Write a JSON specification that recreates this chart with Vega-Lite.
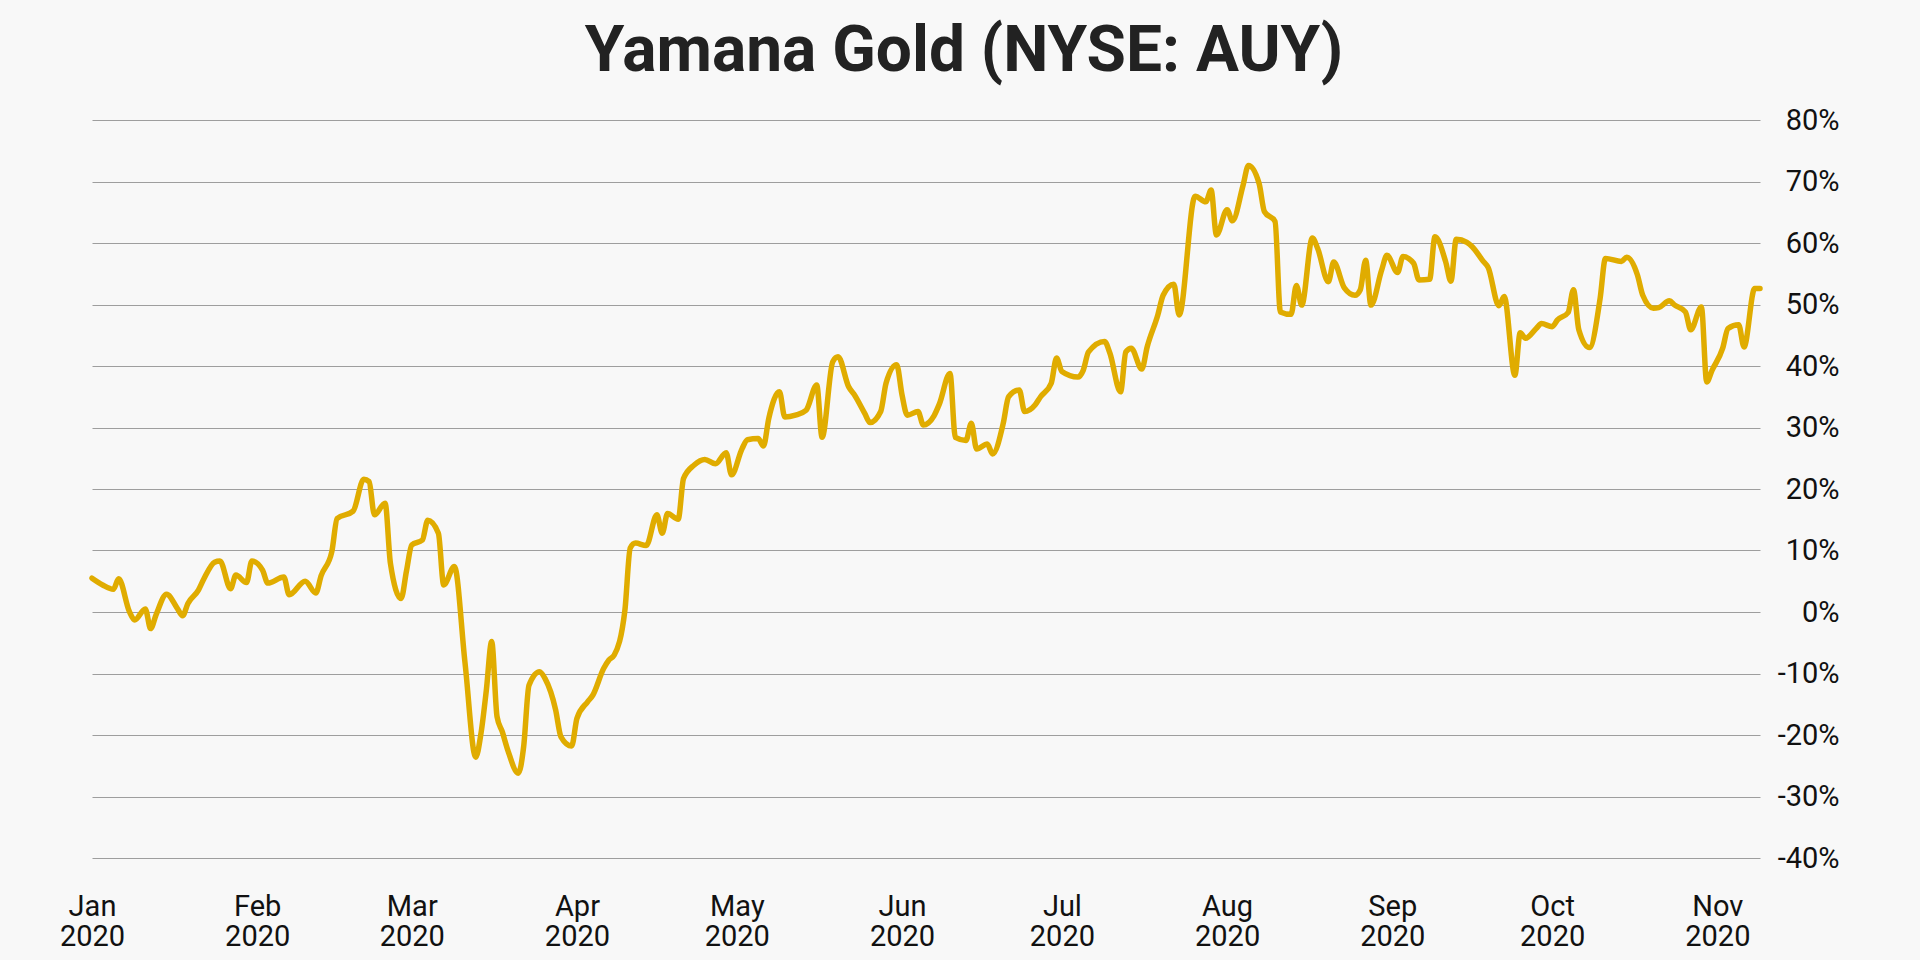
{
  "$schema": "https://vega.github.io/schema/vega-lite/v6.json",
  "width": 1668,
  "height": 738,
  "autosize": {"type": "none"},
  "padding": {"left": 92, "top": 120, "right": 160, "bottom": 102},
  "background": "#f8f8f8",
  "title": {"text": "Yamana Gold (NYSE: AUY)", "font": "Roboto", "fontSize": 64, "fontWeight": "bold", "color": "#222222", "anchor": "middle", "dx": 38, "offset": 22},
  "data": {"values": [
    {"d": "2020-01-01T00:00:00", "v": 5.5}, {"d": "2020-01-03T00:00:00", "v": 4.4}, {"d": "2020-01-05T00:00:00", "v": 3.7}, {"d": "2020-01-06T00:00:00", "v": 5.4},
    {"d": "2020-01-08T00:00:00", "v": 0.1}, {"d": "2020-01-09T00:00:00", "v": -1.3}, {"d": "2020-01-11T00:00:00", "v": 0.5}, {"d": "2020-01-12T00:00:00", "v": -2.7},
    {"d": "2020-01-13T00:00:00", "v": -0.5}, {"d": "2020-01-15T00:00:00", "v": 2.9}, {"d": "2020-01-17T00:00:00", "v": 0.6}, {"d": "2020-01-18T00:00:00", "v": -0.6},
    {"d": "2020-01-19T00:00:00", "v": 1.4}, {"d": "2020-01-21T00:00:00", "v": 3.6}, {"d": "2020-01-22T00:00:00", "v": 5.4}, {"d": "2020-01-24T00:00:00", "v": 8.1},
    {"d": "2020-01-25T00:00:00", "v": 8.3}, {"d": "2020-01-27T00:00:00", "v": 3.8}, {"d": "2020-01-28T00:00:00", "v": 6.0}, {"d": "2020-01-30T00:00:00", "v": 4.8},
    {"d": "2020-01-31T00:00:00", "v": 8.3}, {"d": "2020-02-02T00:00:00", "v": 6.8}, {"d": "2020-02-03T00:00:00", "v": 4.7}, {"d": "2020-02-06T00:00:00", "v": 5.7},
    {"d": "2020-02-07T00:00:00", "v": 2.8}, {"d": "2020-02-10T00:00:00", "v": 5.0}, {"d": "2020-02-12T00:00:00", "v": 3.1}, {"d": "2020-02-13T00:00:00", "v": 5.9},
    {"d": "2020-02-15T00:00:00", "v": 9.8}, {"d": "2020-02-16T00:00:00", "v": 15.2}, {"d": "2020-02-19T00:00:00", "v": 16.4}, {"d": "2020-02-21T00:00:00", "v": 21.6},
    {"d": "2020-02-22T00:00:00", "v": 21.2}, {"d": "2020-02-23T00:00:00", "v": 15.8}, {"d": "2020-02-25T00:00:00", "v": 17.7}, {"d": "2020-02-26T00:00:00", "v": 7.9},
    {"d": "2020-02-28T00:00:00", "v": 2.2}, {"d": "2020-02-29T00:00:00", "v": 6.6}, {"d": "2020-03-01T00:00:00", "v": 10.9}, {"d": "2020-03-03T00:00:00", "v": 11.7},
    {"d": "2020-03-04T00:00:00", "v": 14.9}, {"d": "2020-03-06T00:00:00", "v": 12.8}, {"d": "2020-03-07T00:00:00", "v": 4.4}, {"d": "2020-03-09T00:00:00", "v": 7.4},
    {"d": "2020-03-11T00:00:00", "v": -8.3}, {"d": "2020-03-13T00:00:00", "v": -23.6}, {"d": "2020-03-14T00:00:00", "v": -19.7}, {"d": "2020-03-15T00:00:00", "v": -12.7},
    {"d": "2020-03-16T00:00:00", "v": -4.8}, {"d": "2020-03-17T00:00:00", "v": -17.0}, {"d": "2020-03-18T00:00:00", "v": -19.5}, {"d": "2020-03-19T00:00:00", "v": -22.4},
    {"d": "2020-03-21T00:00:00", "v": -26.2}, {"d": "2020-03-22T00:00:00", "v": -21.9}, {"d": "2020-03-23T00:00:00", "v": -11.9}, {"d": "2020-03-25T00:00:00", "v": -9.7},
    {"d": "2020-03-26T00:00:00", "v": -10.8}, {"d": "2020-03-28T00:00:00", "v": -15.9}, {"d": "2020-03-29T00:00:00", "v": -20.3}, {"d": "2020-03-31T00:00:00", "v": -21.8},
    {"d": "2020-04-01T00:00:00", "v": -17.3}, {"d": "2020-04-03T00:00:00", "v": -14.6}, {"d": "2020-04-04T00:00:00", "v": -13.5}, {"d": "2020-04-06T00:00:00", "v": -9.2},
    {"d": "2020-04-07T00:00:00", "v": -7.8}, {"d": "2020-04-08T00:00:00", "v": -7.0}, {"d": "2020-04-10T00:00:00", "v": 0.3}, {"d": "2020-04-11T00:00:00", "v": 10.4},
    {"d": "2020-04-12T00:00:00", "v": 11.2}, {"d": "2020-04-14T00:00:00", "v": 10.8}, {"d": "2020-04-16T00:00:00", "v": 15.8}, {"d": "2020-04-17T00:00:00", "v": 12.8},
    {"d": "2020-04-18T00:00:00", "v": 16.0}, {"d": "2020-04-20T00:00:00", "v": 15.1}, {"d": "2020-04-21T00:00:00", "v": 21.7}, {"d": "2020-04-23T00:00:00", "v": 23.9},
    {"d": "2020-04-25T00:00:00", "v": 24.8}, {"d": "2020-04-27T00:00:00", "v": 24.1}, {"d": "2020-04-29T00:00:00", "v": 25.9}, {"d": "2020-04-30T00:00:00", "v": 22.3},
    {"d": "2020-05-02T00:00:00", "v": 26.6}, {"d": "2020-05-03T00:00:00", "v": 28.0}, {"d": "2020-05-05T00:00:00", "v": 28.2}, {"d": "2020-05-06T00:00:00", "v": 27.0},
    {"d": "2020-05-07T00:00:00", "v": 31.5}, {"d": "2020-05-09T00:00:00", "v": 35.8}, {"d": "2020-05-10T00:00:00", "v": 31.7}, {"d": "2020-05-12T00:00:00", "v": 32.0},
    {"d": "2020-05-14T00:00:00", "v": 32.8}, {"d": "2020-05-16T00:00:00", "v": 36.9}, {"d": "2020-05-17T00:00:00", "v": 28.4}, {"d": "2020-05-19T00:00:00", "v": 40.7},
    {"d": "2020-05-20T00:00:00", "v": 41.5}, {"d": "2020-05-22T00:00:00", "v": 36.6}, {"d": "2020-05-23T00:00:00", "v": 35.4}, {"d": "2020-05-25T00:00:00", "v": 32.3},
    {"d": "2020-05-26T00:00:00", "v": 30.8}, {"d": "2020-05-28T00:00:00", "v": 32.6}, {"d": "2020-05-29T00:00:00", "v": 37.2}, {"d": "2020-05-31T00:00:00", "v": 40.2},
    {"d": "2020-06-01T00:00:00", "v": 35.3}, {"d": "2020-06-02T00:00:00", "v": 32.0}, {"d": "2020-06-04T00:00:00", "v": 32.6}, {"d": "2020-06-05T00:00:00", "v": 30.4},
    {"d": "2020-06-07T00:00:00", "v": 31.9}, {"d": "2020-06-08T00:00:00", "v": 33.8}, {"d": "2020-06-10T00:00:00", "v": 38.8}, {"d": "2020-06-11T00:00:00", "v": 28.4},
    {"d": "2020-06-13T00:00:00", "v": 27.9}, {"d": "2020-06-14T00:00:00", "v": 30.7}, {"d": "2020-06-15T00:00:00", "v": 26.5}, {"d": "2020-06-17T00:00:00", "v": 27.3},
    {"d": "2020-06-18T00:00:00", "v": 25.7}, {"d": "2020-06-20T00:00:00", "v": 30.7}, {"d": "2020-06-21T00:00:00", "v": 35.0}, {"d": "2020-06-23T00:00:00", "v": 36.1},
    {"d": "2020-06-24T00:00:00", "v": 32.6}, {"d": "2020-06-26T00:00:00", "v": 33.7}, {"d": "2020-06-27T00:00:00", "v": 35.0}, {"d": "2020-06-29T00:00:00", "v": 37.2},
    {"d": "2020-06-30T00:00:00", "v": 41.3}, {"d": "2020-07-01T00:00:00", "v": 39.1}, {"d": "2020-07-04T00:00:00", "v": 38.2}, {"d": "2020-07-05T00:00:00", "v": 39.3},
    {"d": "2020-07-06T00:00:00", "v": 42.3}, {"d": "2020-07-09T00:00:00", "v": 44.0}, {"d": "2020-07-10T00:00:00", "v": 42.1}, {"d": "2020-07-12T00:00:00", "v": 35.8},
    {"d": "2020-07-13T00:00:00", "v": 42.3}, {"d": "2020-07-14T00:00:00", "v": 42.9}, {"d": "2020-07-16T00:00:00", "v": 39.5}, {"d": "2020-07-17T00:00:00", "v": 43.1},
    {"d": "2020-07-19T00:00:00", "v": 48.3}, {"d": "2020-07-20T00:00:00", "v": 51.5}, {"d": "2020-07-22T00:00:00", "v": 53.3}, {"d": "2020-07-23T00:00:00", "v": 48.3},
    {"d": "2020-07-26T00:00:00", "v": 67.6}, {"d": "2020-07-28T00:00:00", "v": 66.7}, {"d": "2020-07-29T00:00:00", "v": 68.6}, {"d": "2020-07-30T00:00:00", "v": 61.3},
    {"d": "2020-08-01T00:00:00", "v": 65.4}, {"d": "2020-08-02T00:00:00", "v": 63.6}, {"d": "2020-08-04T00:00:00", "v": 69.4}, {"d": "2020-08-05T00:00:00", "v": 72.6},
    {"d": "2020-08-07T00:00:00", "v": 69.7}, {"d": "2020-08-08T00:00:00", "v": 65.1}, {"d": "2020-08-10T00:00:00", "v": 63.5}, {"d": "2020-08-11T00:00:00", "v": 48.8},
    {"d": "2020-08-13T00:00:00", "v": 48.4}, {"d": "2020-08-14T00:00:00", "v": 53.1}, {"d": "2020-08-15T00:00:00", "v": 49.9}, {"d": "2020-08-17T00:00:00", "v": 60.8},
    {"d": "2020-08-18T00:00:00", "v": 59.1}, {"d": "2020-08-20T00:00:00", "v": 53.7}, {"d": "2020-08-21T00:00:00", "v": 56.9}, {"d": "2020-08-23T00:00:00", "v": 52.7},
    {"d": "2020-08-25T00:00:00", "v": 51.5}, {"d": "2020-08-26T00:00:00", "v": 52.4}, {"d": "2020-08-27T00:00:00", "v": 57.2}, {"d": "2020-08-28T00:00:00", "v": 49.9},
    {"d": "2020-08-30T00:00:00", "v": 55.6}, {"d": "2020-08-31T00:00:00", "v": 58.0}, {"d": "2020-09-02T00:00:00", "v": 55.2}, {"d": "2020-09-03T00:00:00", "v": 57.8},
    {"d": "2020-09-05T00:00:00", "v": 56.7}, {"d": "2020-09-06T00:00:00", "v": 54.0}, {"d": "2020-09-08T00:00:00", "v": 54.1}, {"d": "2020-09-09T00:00:00", "v": 61.0},
    {"d": "2020-09-11T00:00:00", "v": 57.0}, {"d": "2020-09-12T00:00:00", "v": 53.8}, {"d": "2020-09-13T00:00:00", "v": 60.6}, {"d": "2020-09-15T00:00:00", "v": 60.1},
    {"d": "2020-09-16T00:00:00", "v": 59.4}, {"d": "2020-09-18T00:00:00", "v": 57.1}, {"d": "2020-09-19T00:00:00", "v": 56.0}, {"d": "2020-09-21T00:00:00", "v": 49.8},
    {"d": "2020-09-22T00:00:00", "v": 51.3}, {"d": "2020-09-24T00:00:00", "v": 38.5}, {"d": "2020-09-25T00:00:00", "v": 45.4}, {"d": "2020-09-26T00:00:00", "v": 44.5},
    {"d": "2020-09-28T00:00:00", "v": 46.1}, {"d": "2020-09-29T00:00:00", "v": 46.9}, {"d": "2020-10-01T00:00:00", "v": 46.4}, {"d": "2020-10-02T00:00:00", "v": 47.5},
    {"d": "2020-10-04T00:00:00", "v": 48.7}, {"d": "2020-10-05T00:00:00", "v": 52.4}, {"d": "2020-10-06T00:00:00", "v": 45.9}, {"d": "2020-10-08T00:00:00", "v": 43.0},
    {"d": "2020-10-10T00:00:00", "v": 51.0}, {"d": "2020-10-11T00:00:00", "v": 57.5}, {"d": "2020-10-14T00:00:00", "v": 57.0}, {"d": "2020-10-15T00:00:00", "v": 57.7},
    {"d": "2020-10-17T00:00:00", "v": 54.8}, {"d": "2020-10-18T00:00:00", "v": 51.5}, {"d": "2020-10-20T00:00:00", "v": 49.4}, {"d": "2020-10-21T00:00:00", "v": 49.5},
    {"d": "2020-10-23T00:00:00", "v": 50.6}, {"d": "2020-10-24T00:00:00", "v": 49.9}, {"d": "2020-10-26T00:00:00", "v": 48.8}, {"d": "2020-10-27T00:00:00", "v": 45.9},
    {"d": "2020-10-29T00:00:00", "v": 49.6}, {"d": "2020-10-30T00:00:00", "v": 37.4}, {"d": "2020-10-31T00:00:00", "v": 39.3}, {"d": "2020-11-02T00:00:00", "v": 42.9},
    {"d": "2020-11-03T00:00:00", "v": 46.1}, {"d": "2020-11-05T00:00:00", "v": 46.7}, {"d": "2020-11-06T00:00:00", "v": 43.1}, {"d": "2020-11-08T00:00:00", "v": 52.6},
    {"d": "2020-11-09T00:00:00", "v": 52.6}
  ]},
  "mark": {"type": "line", "color": "#e0ac00", "strokeWidth": 5.5, "interpolate": "monotone", "strokeJoin": "round", "strokeCap": "round"},
  "encoding": {
    "x": {
      "field": "d", "type": "temporal",
      "scale": {"domain": [{"year": 2020, "month": 1, "date": 1}, {"year": 2020, "month": 11, "date": 9}], "nice": false},
      "axis": {
        "title": null, "grid": false, "ticks": false, "domain": false,
        "tickCount": {"interval": "month", "step": 1},
        "labelExpr": "[timeFormat(datum.value, '%b'), timeFormat(datum.value, '%Y')]",
        "labelFont": "Roboto", "labelFontSize": 29, "labelColor": "#111111",
        "labelPadding": 34, "labelLineHeight": 30, "labelBaseline": "top",
        "labelOverlap": false, "labelBound": false, "labelFlush": false
      }
    },
    "y": {
      "field": "v", "type": "quantitative",
      "scale": {"domain": [-40, 80], "nice": false, "zero": false},
      "axis": {
        "orient": "right", "title": null,
        "values": [-40, -30, -20, -10, 0, 10, 20, 30, 40, 50, 60, 70, 80],
        "grid": true, "gridColor": "#9e9e9e", "gridWidth": 1.2,
        "ticks": false, "tickSize": 0, "domain": false,
        "labelExpr": "datum.value + '%'",
        "labelAlign": "right", "labelBaseline": "middle", "labelPadding": 79,
        "labelFont": "Roboto", "labelFontSize": 29, "labelColor": "#111111"
      }
    }
  },
  "config": {"view": {"stroke": null}}
}
